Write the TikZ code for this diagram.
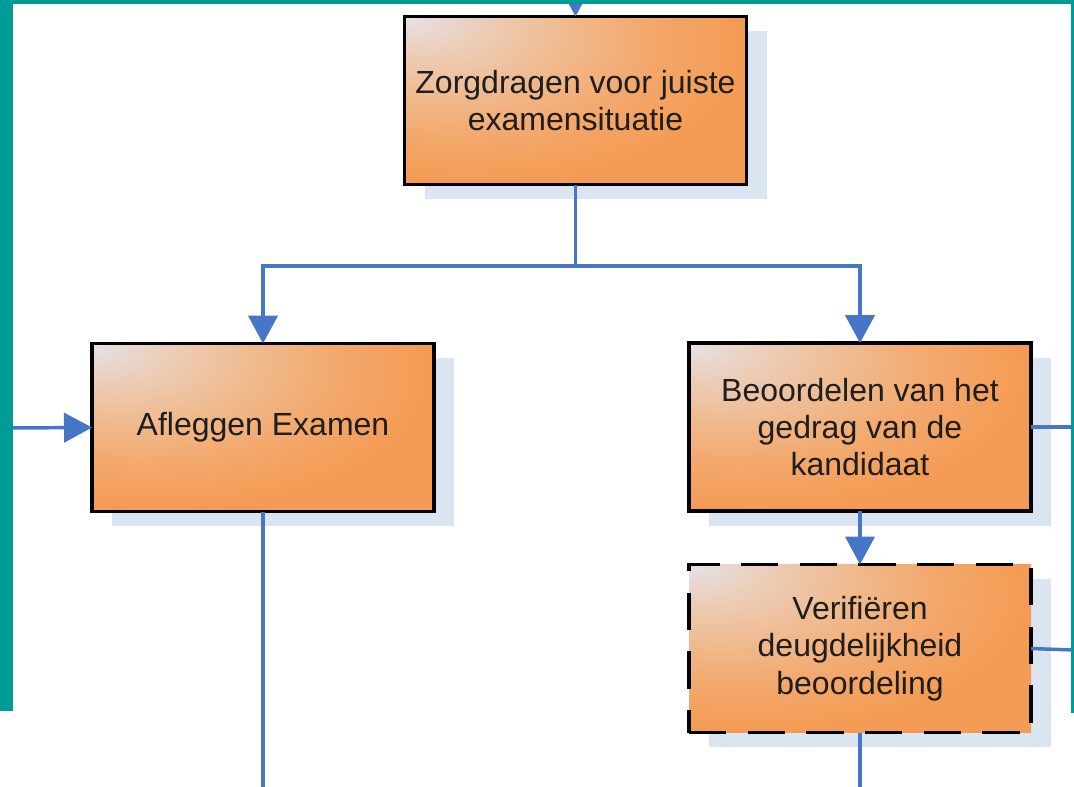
\documentclass[tikz,border=0pt]{standalone}
\usepackage{fontspec}
\setmainfont{Liberation Sans}
\usetikzlibrary{arrows.meta,shadows}
\definecolor{frameteal}{HTML}{009B96}
\definecolor{linkblue}{HTML}{4676C6}
\definecolor{shadowblue}{HTML}{DAE5F1}
\definecolor{txtc}{HTML}{1E1E1E}
\definecolor{bxA}{HTML}{E6E2E6}
\definecolor{bxB}{HTML}{ECCDB8}
\definecolor{bxC}{HTML}{F0BA8E}
\definecolor{bxD}{HTML}{F3A86C}
\definecolor{bxE}{HTML}{F49C55}
\pgfdeclareradialshading{boxshade}{\pgfpoint{-25bp}{25bp}}{color(0bp)=(bxA); color(9bp)=(bxB); color(19bp)=(bxC); color(29bp)=(bxD); color(39bp)=(bxE); color(100bp)=(bxE)}
\tikzset{
  procbox/.style={rectangle, draw=black, line width=2.3pt, shade, shading=boxshade,
    minimum width=256.5pt, minimum height=126pt, inner sep=0pt, outer sep=0pt,
    align=center, text=txtc, font=\fontsize{24}{28}\selectfont,
    drop shadow={shadow xshift=15pt, shadow yshift=-11pt, fill=shadowblue, opacity=1}},
  dashbox/.style={procbox, dash pattern=on 28pt off 16pt},
  link/.style={draw=linkblue, line width=2.6pt},
  arrowlink/.style={link, -{Triangle[width=22pt,length=21pt]}}
}
\begin{document}
\begin{tikzpicture}[x=0.75pt, y=-0.75pt]
\useasboundingbox (0,0) rectangle (1074,786);
\fill[white] (0,0) rectangle (1074,786);

\node[procbox] (b1) at (575.5,100.5) {Zorgdragen voor juiste\\examensituatie};
\node[procbox] (b2) at (263,427.5) {Afleggen Examen};
\node[procbox] (b3) at (860,427) {Beoordelen van het\\gedrag van de\\kandidaat};
\node[dashbox] (b4) at (860,648.5) {Verifiëren\\deugdelijkheid\\beoordeling};

\coordinate (topin) at (575.5,-40);
\coordinate (split) at (575.5,266);
\coordinate (leftin) at (8,428);
\coordinate (b2down) at (263,800);
\coordinate (b3right) at (1074,427);
\coordinate (b4right) at (1074,650);
\coordinate (b4down) at (860,800);

\draw[arrowlink] (topin) -- (b1.north);
\draw[link] (b1.south) -- (split);
\draw[arrowlink] (split) -| (b2.north);
\draw[arrowlink] (split) -| (b3.north);
\draw[arrowlink] (leftin) -- (b2.west);
\draw[link] (b2.south) -- (b2down);
\draw[link] (b3.east) -- (b3right);
\draw[arrowlink] (b3.south) -- (b4.north);
\draw[link] (b4.east) -- (b4right);
\draw[link] (b4.south) -- (b4down);

\fill[frameteal] (0,0) rectangle (13,711);
\fill[frameteal] (0,0) rectangle (1074,4);
\fill[frameteal] (1071,0) rectangle (1074,713);
\end{tikzpicture}
\end{document}
